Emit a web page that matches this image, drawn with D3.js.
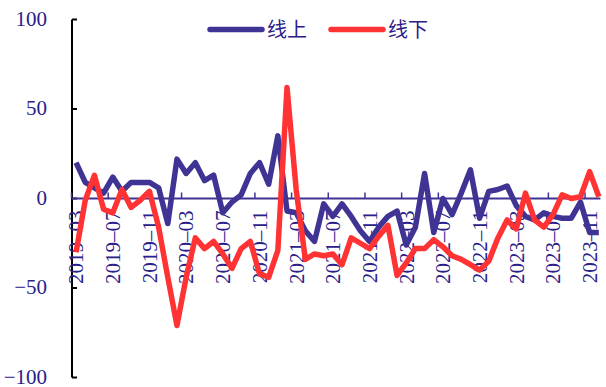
<!DOCTYPE html>
<html>
<head>
<meta charset="utf-8">
<script src="https://cdn.jsdelivr.net/npm/d3@7/dist/d3.min.js"></script>
<style>
  html, body { margin: 0; padding: 0; background: #fff; }
  svg { display: block; }
</style>
</head>
<body>
<svg id="chart" width="606" height="387"></svg>
<script>
// Monthly categories, 2019-03 .. 2023-12
const months = [
  "2019-03","2019-04","2019-05","2019-06","2019-07","2019-08","2019-09","2019-10","2019-11","2019-12",
  "2020-01","2020-02","2020-03","2020-04","2020-05","2020-06","2020-07","2020-08","2020-09","2020-10",
  "2020-11","2020-12","2021-01","2021-02","2021-03","2021-04","2021-05","2021-06","2021-07","2021-08",
  "2021-09","2021-10","2021-11","2021-12","2022-01","2022-02","2022-03","2022-04","2022-05","2022-06",
  "2022-07","2022-08","2022-09","2022-10","2022-11","2022-12","2023-01","2023-02","2023-03","2023-04",
  "2023-05","2023-06","2023-07","2023-08","2023-09","2023-10","2023-11","2023-12"
];

// 线上
const aboveValues = [
  20, 9, 6, 3, 12, 4, 9, 9, 9, 6,
  -14, 22, 14, 20, 10, 13, -8, -2, 2, 14,
  20, 8, 35, -7, -8, -18, -24, -3, -10, -3,
  -10, -18, -24, -16, -10, -7, -26, -16, 14, -19,
  0, -9, 3, 16, -11, 4, 5, 7, -4, -10,
  -12, -8, -10, -11, -11, -2, -19, -19
];

// 线下
const belowValues = [
  -30, -1, 13, -6, -8, 5, -5, -1, 4, -16,
  -44, -71, -44, -22, -28, -24, -31, -39, -28, -24,
  -42, -44, -29, 62, 5, -34, -31, -32, -31, -37,
  -22, -25, -28, -21, -15, -43, -36, -28, -28, -23,
  -27, -32, -34, -37, -40, -35, -22, -12, -17, 3,
  -12, -16, -9, 2, 0, 1, 15, 1
];

const seriesNames = ["线上", "线下"];
const seriesColors = ["#3f3394", "#ff3333"];
const yTicks = [100, 50, 0, -50, -100];
const xTickLabels = months.filter((m, i) => i % 4 === 0);

const textColor = "#2a2089";
const numFont = "'Liberation Serif', 'Times New Roman', serif";

const svg = d3.select("#chart");

const x = d3.scaleBand().domain(months).range([71.5, 603.4]).padding(0);
const y = d3.scaleLinear().domain([-100, 100]).range([377.5, 19.5]);

// Y axis: black line, inward ticks
const yAxis = svg.append("g").attr("transform", "translate(72,0)");
yAxis.append("line")
  .attr("x1", 0).attr("x2", 0)
  .attr("y1", y(100)).attr("y2", y(-100))
  .attr("stroke", "#000").attr("stroke-width", 2);
yAxis.selectAll(".ytick").data(yTicks).join("line")
  .attr("x1", 0).attr("x2", 5)
  .attr("y1", d => y(d)).attr("y2", d => y(d))
  .attr("stroke", "#000").attr("stroke-width", 2);
yAxis.selectAll(".ylab").data(yTicks).join("text")
  .attr("x", -25).attr("y", d => y(d))
  .attr("dy", "0.3em")
  .attr("text-anchor", "end")
  .attr("font-family", numFont)
  .attr("font-size", 21)
  .attr("fill", textColor)
  .text(d => d < 0 ? "\u2212" + Math.abs(d) : d);

// X axis along zero
const x0 = y(0);
svg.append("line")
  .attr("x1", 72).attr("x2", x.range()[1] - 3)
  .attr("y1", x0).attr("y2", x0)
  .attr("stroke", seriesColors[0]).attr("stroke-width", 2);
svg.selectAll(".xtick").data(xTickLabels).join("line")
  .attr("x1", d => x(d)).attr("x2", d => x(d))
  .attr("y1", x0).attr("y2", x0 - 6)
  .attr("stroke", seriesColors[0]).attr("stroke-width", 1.5);
svg.selectAll(".xlab").data(xTickLabels).join("text")
  .attr("transform", d => `translate(${x(d) + x.bandwidth() / 2},${x0 + 12}) rotate(-90)`)
  .attr("dy", "0.35em")
  .attr("text-anchor", "end")
  .attr("font-family", numFont)
  .attr("font-size", 21)
  .attr("fill", textColor)
  .text(d => d.replace("-", "\u2013"));

// Series lines
const line = d3.line()
  .x((d, i) => x(months[i]) + x.bandwidth() / 2)
  .y(d => y(d));

[aboveValues, belowValues].forEach((vals, k) => {
  svg.append("path")
    .datum(vals)
    .attr("d", line)
    .attr("fill", "none")
    .attr("stroke", seriesColors[k])
    .attr("stroke-width", 5.5)
    .attr("stroke-linejoin", "round")
    .attr("stroke-linecap", "butt");
});

// Legend
const legend = svg.append("g");
const legendItems = [
  { name: seriesNames[0], color: seriesColors[0], x1: 210, x2: 262 },
  { name: seriesNames[1], color: seriesColors[1], x1: 331, x2: 383 }
];
legendItems.forEach(it => {
  legend.append("line")
    .attr("x1", it.x1).attr("x2", it.x2)
    .attr("y1", 29.5).attr("y2", 29.5)
    .attr("stroke", it.color).attr("stroke-width", 5.5)
    .attr("stroke-linecap", "round");
  legend.append("text")
    .attr("x", it.x2 + 5).attr("y", 29.5)
    .attr("dy", "0.36em")
    .attr("font-family", "'Noto Sans CJK SC', sans-serif")
    .attr("font-size", 20)
    .attr("fill", textColor)
    .text(it.name);
});
</script>
</body>
</html>
